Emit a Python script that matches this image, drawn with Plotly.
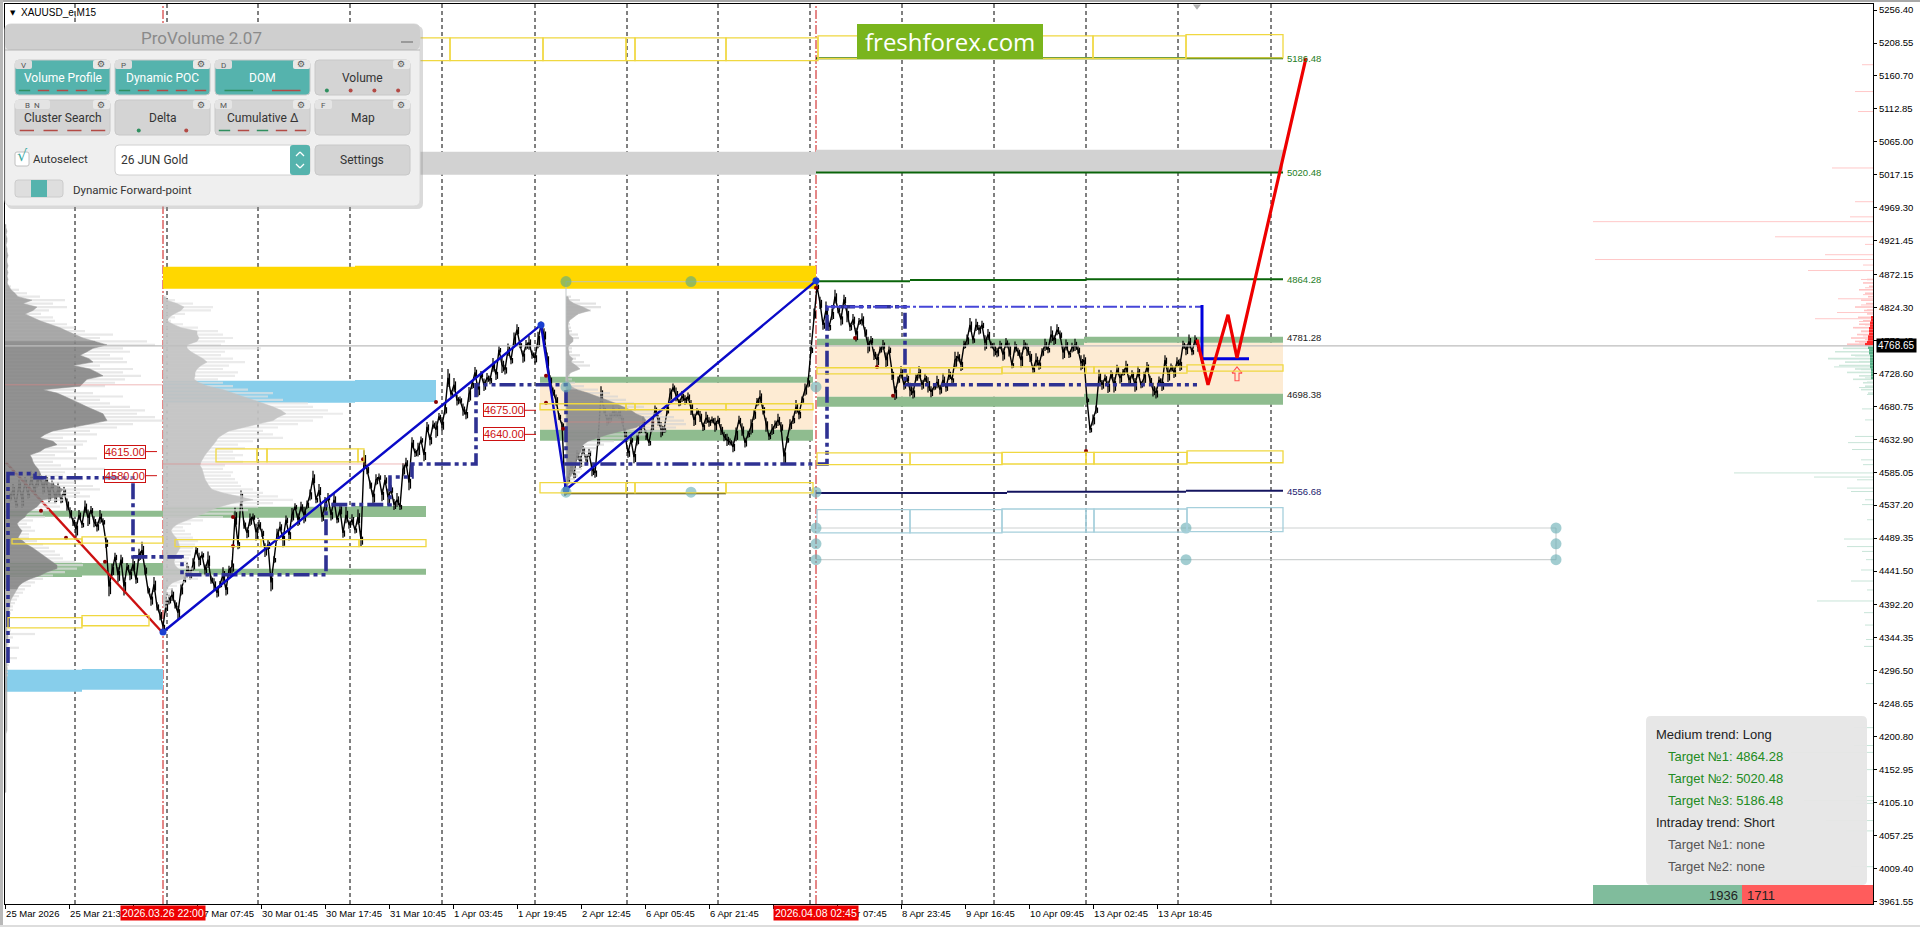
import plotly.graph_objects as go

# ---------- axis values ----------
x_tick_bars = [0,64,128,192,256,320,384,448,512,576,640,704,768,832,896,960,1024,1088,1152]
x_tick_labels = ["25 Mar 2026","25 Mar 21:30","","27 Mar 07:45","30 Mar 01:45","30 Mar 17:45",
                 "31 Mar 10:45","1 Apr 03:45","1 Apr 19:45","2 Apr 12:45","6 Apr 05:45","6 Apr 21:45",
                 "","8 Apr 07:45","8 Apr 23:45","9 Apr 16:45","10 Apr 09:45","13 Apr 02:45","13 Apr 18:45"]
y_ticks = [5256.40,5208.55,5160.70,5112.85,5065.00,5017.15,4969.30,4921.45,4872.15,4824.30,4776.45,4728.60,4680.75,
           4632.90,4585.05,4537.20,4489.35,4441.50,4392.20,4344.35,4296.50,4248.65,4200.80,4152.95,4105.10,4057.25,
           4009.40,3961.55]
period_bars = [70,162,253,345,437,530,622,713,805,897,989,1081,1173,1266]
session_bars = [158,811]
last_price = 4768.65

# ---------- price path: one reading every 3 bars from bar 5 ----------
first_bar, bar_step = 5, 3
close_path = [
4549,4559,4538,4567,4545,4571,4552,4577,4560,4571,
4578,4562,4574,4552,4567,4548,4560,4545,4557,4538,
4526,4513,4502,4523,4509,4535,4519,4530,4513,4506,
4520,4513,4483,4419,4443,4462,4436,4458,4419,4448,
4436,4451,4429,4465,4472,4443,4414,4400,4422,4390,
4378,4361,4393,4400,4407,4393,4381,4414,4429,4443,
4436,4451,4472,4458,4465,4443,4458,4429,4422,4410,
4422,4436,4414,4443,4448,4520,4480,4549,4509,4497,
4516,4520,4498,4509,4497,4472,4480,4425,4458,4494,
4506,4487,4516,4494,4523,4535,4516,4535,4523,4538,
4552,4577,4545,4559,4520,4538,4549,4523,4545,4516,
4531,4497,4523,4509,4516,4501,4520,4487,4603,4589,
4567,4549,4574,4578,4552,4574,4549,4560,4538,4545,
4535,4589,4599,4570,4628,4613,4618,4632,4610,4651,
4632,4654,4647,4666,4654,4676,4722,4698,4712,4690,
4690,4676,4669,4698,4712,4730,4705,4727,4712,4722,
4719,4741,4727,4763,4741,4734,4763,4748,4777,4792,
4770,4753,4770,4773,4756,4751,4777,4799,4785,4748,
4719,4702,4690,4666,4654,4560,4574,4593,4581,4610,
4600,4618,4603,4613,4589,4584,4632,4698,4676,4661,
4664,4673,4669,4671,4661,4639,4613,4632,4607,4632,
4647,4657,4639,4628,4654,4676,4661,4647,4647,4676,
4698,4708,4698,4686,4695,4690,4695,4679,4661,4673,
4666,4651,4664,4658,4661,4654,4661,4647,4637,4632,
4629,4622,4640,4661,4647,4628,4640,4651,4669,4687,
4695,4676,4654,4637,4647,4654,4661,4651,4608,4632,
4654,4661,4680,4669,4690,4705,4715,4763,4815,4855,
4831,4799,4821,4796,4814,4840,4821,4807,4836,4814,
4796,4807,4785,4804,4807,4789,4770,4777,4756,4748,
4763,4770,4748,4763,4727,4700,4719,4730,4712,4722,
4705,4700,4722,4730,4712,4722,4712,4702,4709,4716,
4705,4719,4708,4727,4719,4748,4753,4741,4770,4777,
4799,4777,4799,4792,4799,4773,4785,4770,4763,4759,
4770,4756,4773,4763,4741,4767,4760,4748,4770,4763,
4753,4734,4748,4741,4759,4770,4763,4785,4777,4792,
4785,4759,4770,4756,4766,4770,4763,4744,4748,4690,
4647,4661,4676,4724,4712,4722,4709,4727,4712,4734,
4722,4730,4738,4719,4727,4712,4731,4712,4722,4738,
4719,4705,4700,4719,4712,4748,4727,4737,4730,4745,
4741,4770,4763,4775,4760,4777,4766]
bar_swing = [
6,9,5,8,12,7,5,10,6,8,
5,9,7,11,6,8,10,5,7,9,
8,6,11,7,5,9,12,6,8,7,
10,5,8,14,9,6,11,7,13,5,
8,10,6,9,12,7,5,9,11,6,
8,5,12,7,9,6,10,8,5,11,
7,9,6,10,5,8,12,6,9,7,
5,11,8,6,9,14,7,10,6,8,
9,5,12,7,6,10,8,13,5,9,
7,11,6,8,10,5,9,7,12,6,
8,10,5,9,7,11,6,8,10,5,
9,7,12,6,8,5,11,9,14,7,
6,10,8,5,9,7,12,6,8,10,
5,9,7,11,8,6,10,5,9,7,
8,6,12,5,9,7,13,6,10,8,
5,9,7,11,6,8,10,5,9,7,
6,10,8,5,12,7,9,6,11,8,
5,9,7,10,6,8,12,5,9,11,
7,6,8,5,4,9,6,8,5,7,
9,5,8,6,10,7,9,12,6,8,
7,9,5,8,6,10,7,5,9,8,
6,9,7,5,10,6,8,11,5,7,
9,6,10,5,8,7,6,11,9,5,
8,6,9,7,5,10,6,8,7,9,
5,8,10,6,9,7,5,11,8,6,
9,7,10,5,8,6,9,7,12,5,
8,6,10,7,5,9,7,6,8,5,
9,7,12,6,8,10,5,9,7,11,
6,8,10,5,9,7,12,6,8,9,
5,7,11,6,8,10,5,9,7,6,
10,8,5,9,7,6,11,8,5,9,
7,10,6,8,5,12,7,9,6,8,
10,5,9,7,6,11,8,5,10,7,
6,9,7,10,5,8,6,11,7,9,
8,5,10,7,6,9,5,12,7,8,
6,10,8,5,7,9,6,11,8,4,
5,8,6,10,7,5,9,6,11,7,
8,5,9,7,6,10,8,5,9,7,
6,10,8,5,9,7,11,6,8,7,
9,6,8,10,5,7,6]

# ---------- volume profiles: width in bars on a 5-point price grid ----------
profile_step = 5.0
prof1_base, prof1_top = 0, 4945.0
prof1_width = [1,1,2,1,2,2,1,2,2,3,2,2,3,2,3,2,3,
 2,4,6,10,13,27,18,32,28,20,28,35,45,55,62,70,78,90,102,88,82,75,84,88,68,85,92,98,82,78,75,38,52,60,68,75,82,90,98,100,102,85,68,48,40,35,48,52,40,35,25,27,28,30,33,35,35,38,44,52,58,55,58,38,35,32,27,22,20,15,12,14,17,15,13,18,22,28,33,38,42,48,52,52,42,35,25,18,14,12,10,8,6,5,5,4,3,3,2,2,2,2,3,3,2,2,2,2,2,2,2,2,2,2,2,2,2,2,2,2,2,2,2,2,2,2,2,2,2,2,2,1,1,1,1,1,1,1,1,1,1,1,1,1,1,1,1,1,1]
prof1_haze_top = 4860.0
prof1_haze = [3,6,14,22,35,60,48,62,44,36,48,50,62,70,80,108,95,142,150,118,125,105,118,122,95,128,118,136,120,110,100,70,88,118,95,105,125,140,132,150,165,128,112,85,92,58,82,78,62,70,50,92,48,56,100,60,58,78,70,88,95,75,85,60,52,55,44,38,40,28,22,26,30,24,24,32,38,44,50,55,58,70,78,72,60,48,38,30,26,20,18,14,12,10,8,8,6,5,5,4,4,6,30,8,5,4,14,5,4,12,5,4,3,3,3]
prof2_base, prof2_top = 158, 4840.0
prof2_width = [2,4,14,21,18,11,6,4,10,18,34,34,36,34,24,24,28,34,40,44,38,34,32,32,31,36,45,60,70,82,92,102,110,118,123,115,110,95,80,66,60,55,53,50,47,45,42,40,38,37,39,40,41,42,44,46,49,60,75,90,70,57,48,41,32,24,15,10,8,10,13,15,16,17,15,13,12,11,12,15,20,25,20,10,6,4,3,3,2,2,2]
prof2_haze = [4,12,30,50,48,22,12,8,20,35,55,60,70,62,58,98,62,58,70,82,66,60,75,72,55,60,70,85,110,105,120,145,150,165,180,160,150,135,115,100,110,120,90,75,82,70,80,72,80,62,60,70,68,72,75,78,90,100,115,130,110,95,85,70,60,40,28,20,22,28,30,35,32,30,28,28,26,24,26,30,36,45,35,22,14,10,8,7,6,5,4]
prof3_base, prof3_top = 561, 4840.0
prof3_width = [2,3,8,17,24,12,7,3,2,2,3,3,7,7,3,2,3,3,7,5,10,14,5,2,2,3,5,11,22,32,40,50,57,65,70,78,80,76,70,55,42,32,22,17,16,15,13,11,10,9,8,7,5,3,2,2,1]
prof3_haze = [5,14,30,35,25,12,6,4,4,5,6,12,13,6,4,6,6,14,10,18,24,12,4,4,6,9,18,32,44,52,60,68,78,88,96,108,118,120,110,100,80,62,48,38,30,26,24,22,20,18,16,14,12,9,6,4,2]

# ---------- depth of market rows at the right edge ----------
dom_ask_price = [5177,5138,5109,5027,4978,4956,4949,4927,4916,4901,4894,4886,4878,4865,4853,4843,4837,4828,4821,4817,4808,4804,4799,4795,4789,4783,4778,4773]
dom_ask_size = [11,18,15,41,18,23,280,98,8,48,278,10,65,12,8,10,35,12,6,36,58,14,8,18,12,10,8,14]
dom_bid_price = [4760,4754,4750,4746,4738,4734,4730,4722,4716,4708,4698,4677,4661,4637,4628,4618,4603,4596,4584,4578,4574,4562,4557,4545,4538,4516,4488,4477,4470,4458,4443,4427,4414,4398,4381,4363,4342,4332,4278,4214,4188,4178,4153,4114,4108,4104,4079,4064,4012,3979]
dom_bid_size = [12,18,39,14,39,12,16,8,6,14,6,11,8,18,25,21,12,10,139,59,16,26,22,8,11,6,29,26,11,7,12,22,6,56,9,8,7,9,7,19,19,82,7,17,69,17,47,27,22,254]
ask_pale_price = [4865,4860,4855,4850,4845,4840,4835,4830,4825,4820,4815,4810,4805,4800,4795,4790,4785,4780,4775,4771]
ask_pale_size = [6,10,4,14,8,5,12,7,18,9,6,15,10,14,20,12,16,22,18,26]
ask_core_price = [4810,4806,4802,4798,4794,4790,4786,4782,4778,4774,4771]
ask_core_size = [2,2,3,3,4,4,4,5,5,6,8]
bid_pale_price = [4765,4760,4755,4750,4745,4740,4735,4730,4725,4720,4715,4710,4705,4700]
bid_pale_size = [30,38,22,45,28,34,18,26,14,20,10,8,12,5]
bid_core_price = [4766,4762,4758,4754,4750,4746,4742,4738,4734,4730,4726,4722]
bid_core_size = [5,4,4,3,3,3,3,3,2,2,2,2]

# ---------- zones: first bar, last bar, upper price, lower price ----------
gold_zones = [(158,350,4883.6,4851.6),(350,811,4885,4851.6)]
grey_zones = [(158,811,5050.6,5017),(811,1278,5053.5,5021.5)]
sky_zones = [(158,350,4718,4686),(350,431,4719,4687),(0,77,4298,4266),(77,158,4299,4269)]
green_zones = [(0,158,4529.1,4520.4),(0,77,4453.6,4433),(77,158,4453,4435),(158,350,4535,4519),(350,421,4536,4520),
               (158,421,4444.8,4436),(535,808,4723.8,4715),(535,808,4646.8,4630.8),(812,1079,4779,4770),
               (812,1079,4694.7,4680),(1079,1278,4781.9,4773),(1079,1278,4699,4683)]
peach_zones = [(535,808,4715,4646.8),(812,1079,4770,4694.7),(1079,1278,4773,4699)]
yellow_boxes = [(158,445,5216,5183),(445,538,5216,5183),(538,621,5216,5183),(621,630,5216,5183),(630,721,5216,5183),(721,813,5216,5183),
 (813,905,5219,5186),(905,997,5219,5186),(997,1088,5219,5186),(1088,1181,5219,5186),(1181,1278,5220.6,5187),
 (211,252,4619,4600),(252,262,4619,4600),(262,353,4619,4600),(353,359,4619,4600),
 (7,77,4488,4481),(77,158,4491,4482),(170,256,4487,4477),(256,354,4487,4477),(354,421,4487,4477),
 (3,77,4373.7,4359),(77,144,4376.6,4362),
 (535,621,4684.5,4675.8),(621,630,4684.5,4675.8),(630,721,4684.5,4675.8),(721,808,4684.5,4675.8),
 (535,621,4569.8,4555),(621,630,4569.8,4555),(630,721,4569.8,4555),(721,808,4569.8,4555),
 (812,905,4736.8,4728),(905,997,4736.8,4728),(997,1081,4738,4729),(1081,1089,4738,4729),(1089,1182,4738,4729),(1182,1278,4741,4732),
 (812,905,4613,4596),(905,997,4613,4596),(997,1081,4614,4597),(1081,1089,4614,4597),(1089,1182,4614,4597),(1182,1278,4616,4598.8)]
water_boxes = [(812,905,4530.6,4497),(905,997,4530.6,4497),(997,1081,4531.6,4498),(1081,1089,4531.6,4498),(1089,1182,4531.6,4498),(1182,1278,4533.5,4498.6)]

# ---------- levels ----------
target_levels = [(811,1278,5186.48),(811,1278,5020.48),(811,905,4862.5),(905,1081,4864.28),(1081,1278,4865.5)]
support_levels = [(811,1002,4555),(1002,1181,4556.68),(1181,1278,4558)]
level_labels = ["5186.48","5020.48","4864.28","4781.28","4698.38","4556.68"]
level_values = [5186.48,5020.48,4864.28,4781.28,4698.38,4556.68]
level_colors = ["#1e7d1e","#1e7d1e","#1e7d1e","#222222","#222222","#22226e"]
profile_poc = [(0,158,4712),(158,400,4597),(561,650,4658)]

poc_bars = [3,3,30,30,128,128,177,177,321,321,385,385,407,407,471,471,561,561,822,822,900,900,1192]
poc_prices = [4308,4583,4583,4577,4577,4462,4462,4436,4436,4538,4538,4578,4578,4597,4597,4712,4712,4597,4597,4825.5,4825.5,4712,4712]
poc2_bars = [822,1196]
poc2_prices = [4825.5,4825.5]

wave_blue_bars = [158,536,561,811]
wave_blue_prices = [4353,4799,4559.6,4863]
wave_red_bars = [1,157]
wave_red_prices = [4599,4353]
fcst_red_bars = [1192,1203,1223,1232,1301]
fcst_red_prices = [4777.5,4712,4813.8,4751,5187]
fcst_blue_bars = [1197,1197,1244]
fcst_blue_prices = [4828,4750,4750]
arrow_bars = [1227,1232,1237,1234,1234,1230,1230,1227]
arrow_prices = [4729,4738,4729,4729,4718,4718,4729,4729]

teal_bars = [561,561,686,811,811,811,811,811,1181,1181,1551,1551,1551]
teal_prices = [4556,4709,4556,4709,4556,4504,4481,4458,4504,4458,4504,4481,4458]
olive_bars = [561,686]
olive_prices = [4862,4862]
dot_bars = [36,61,100,228,228,358,431,541,541,558,811,850,872,888,1081]
dot_prices = [4529,4490,4455,4520,4478,4604,4687,4725,4686,4648,4853,4780,4738,4696,4616]
price_tag_values = [4615.00,4580.00,4675.00,4640.00]
price_tag_bars = [120,120,499,499]

# ---------- page geometry ----------
W, H = 1920, 927
L, R, T, B = 5, 1873, 4, 904
def px(x): return (x - L) / (R - L)
def py(y): return 1 - (y - T) / (B - T)

fig = go.Figure()
shapes, anns = [], []

def rect_list(rows, fill=None, line=None, lw=1.3, layer="below"):
    for b0, b1, p0, p1 in rows:
        shapes.append(dict(type="rect", xref="x", yref="y", x0=b0, x1=b1, y0=p0, y1=p1, layer=layer,
                           fillcolor=fill if fill else "rgba(0,0,0,0)",
                           line=dict(color=line, width=lw) if line else dict(width=0)))

rect_list(grey_zones, "#d2d2d2")
rect_list(gold_zones, "#ffd700")
rect_list(sky_zones, "#87ceeb")
rect_list(peach_zones, "#fdebd3")
rect_list(green_zones, "#8fbc8f")

for b in period_bars:
    shapes.append(dict(type="line", xref="x", yref="paper", x0=b, x1=b, y0=0, y1=1, layer="below",
                       line=dict(color="#000000", width=1, dash="4px,3px")))
for b in session_bars:
    shapes.append(dict(type="line", xref="x", yref="paper", x0=b, x1=b, y0=0, y1=1, layer="below",
                       line=dict(color="#cc1111", width=1, dash="9px,2px,2px,2px")))

# price: wick ticks plus the path through them
wx, wy = [], []
for i, (c, s) in enumerate(zip(close_path, bar_swing)):
    b = first_bar + bar_step * i
    wx += [b, b, None, b + 1.5, b + 1.5, None]
    wy += [c - s, c + s, None, c + s * 0.5, c - s * 0.8, None]
fig.add_trace(go.Scatter(x=wx, y=wy, mode="lines", line=dict(color="#000000", width=1.2), hoverinfo="skip"))
fig.add_trace(go.Scatter(x=[first_bar + bar_step * i for i in range(len(close_path))], y=close_path, mode="lines",
                         line=dict(color="#000000", width=1.4), hoverinfo="skip"))

# red wave lies under the first profile
fig.add_trace(go.Scatter(x=wave_red_bars, y=wave_red_prices, mode="lines",
                         line=dict(color="#cc1111", width=2.4), hoverinfo="skip"))

# profile haze and bodies
def haze(base, top, widths, color):
    xs, ys = [], []
    for i, w in enumerate(widths):
        p = top - profile_step * i
        xs += [base, base + w, None]; ys += [p, p, None]
    fig.add_trace(go.Scatter(x=xs, y=ys, mode="lines", line=dict(color=color, width=2.2), hoverinfo="skip"))

def body(base, top, widths, color, i0=0, i1=None, opacity=0.9):
    i1 = len(widths) if i1 is None else i1
    ps = [top - profile_step * i for i in range(i0, i1)]
    ws = widths[i0:i1]
    xs = [base] + [base + w for w in ws] + [base]
    ys = [ps[0]] + ps + [ps[-1]]
    fig.add_trace(go.Scatter(x=xs, y=ys, mode="lines", fill="toself", fillcolor=color, opacity=opacity,
                             line=dict(color=color, width=0.5), hoverinfo="skip"))

haze(prof1_base, prof1_haze_top, prof1_haze, "rgba(222,222,222,0.7)")
haze(prof2_base, prof2_top, prof2_haze, "rgba(226,226,226,0.7)")
haze(prof3_base, prof3_top, prof3_haze, "rgba(210,210,210,0.65)")
body(prof1_base, prof1_top, prof1_width, "#9c9c9c", 0, 35, 0.85)
body(prof1_base, prof1_top, prof1_width, "#808080", 34, 107, 0.85)
body(prof1_base, prof1_top, prof1_width, "#a8a8a8", 106, None, 0.85)
body(prof2_base, prof2_top, prof2_width, "#c2c2c2", 0, None, 0.9)
body(prof3_base, prof3_top, prof3_width, "#b0b0b0", 0, 28, 0.95)
body(prof3_base, prof3_top, prof3_width, "#8c8c8c", 27, None, 0.9)

# zone outlines above the profiles
rect_list(yellow_boxes, None, "#f0d840", layer="above")
rect_list(water_boxes, None, "#a6d0dc", layer="above")

# depth of market
def dom(prices, sizes, color, w=1):
    xs, ys = [], []
    for p, s in zip(prices, sizes):
        xs += [1868 - s, 1868, None]; ys += [p, p, None]
    fig.add_trace(go.Scatter(x=xs, y=ys, mode="lines", line=dict(color=color, width=w), hoverinfo="skip"))
dom(dom_ask_price, dom_ask_size, "#ffc8c8")
dom(dom_bid_price, dom_bid_size, "#c8e4d8")
dom(ask_pale_price, ask_pale_size, "#ffc4c4", 1.6)
dom(bid_pale_price, bid_pale_size, "#cfe8dc", 1.6)
dom(ask_core_price, ask_core_size, "#ff2a2a", 2.6)
dom(bid_core_price, bid_core_size, "#58b088", 2.6)

# levels
def level_rows(rows, color, w=2):
    xs, ys = [], []
    for b0, b1, p in rows:
        xs += [b0, b1, None]; ys += [p, p, None]
    fig.add_trace(go.Scatter(x=xs, y=ys, mode="lines", line=dict(color=color, width=w), hoverinfo="skip"))
level_rows(profile_poc, "rgba(225,130,130,0.55)", 1)
level_rows([(0, 1868, last_price)], "#bdbdbd", 1.2)
level_rows(target_levels, "#0a640a")
level_rows(support_levels, "#14145f")
level_rows([(561, 721, 4554)], "#33330f", 1.5)

# grey connector lines
xs = [811, 1551, None, 811, 1551, None, 1551, 1551, None, 561, 811, None, 561, 561]
ys = [4504, 4504, None, 4458, 4458, None, 4504, 4458, None, 4862, 4862, None, 4862, 4556]
fig.add_trace(go.Scatter(x=xs, y=ys, mode="lines", line=dict(color="rgba(190,195,195,0.75)", width=1.2), hoverinfo="skip"))

# POC lines
fig.add_trace(go.Scatter(x=poc_bars, y=poc_prices, mode="lines",
                         line=dict(color="#2e3192", width=3.6, dash="16px,4px,4px,4px,4px,4px"), hoverinfo="skip"))
fig.add_trace(go.Scatter(x=poc2_bars, y=poc2_prices, mode="lines",
                         line=dict(color="#4646d8", width=2, dash="14px,3px,3px,3px"), hoverinfo="skip"))

# waves
fig.add_trace(go.Scatter(x=wave_blue_bars, y=wave_blue_prices, mode="lines+markers",
                         line=dict(color="#0a0ac8", width=2.4), marker=dict(color="#1a3fd0", size=7), hoverinfo="skip"))
fig.add_trace(go.Scatter(x=fcst_blue_bars, y=fcst_blue_prices, mode="lines",
                         line=dict(color="#0000dd", width=3), hoverinfo="skip"))
fig.add_trace(go.Scatter(x=fcst_red_bars, y=fcst_red_prices, mode="lines",
                         line=dict(color="#ee0000", width=3.2), hoverinfo="skip"))
fig.add_trace(go.Scatter(x=arrow_bars, y=arrow_prices, mode="lines",
                         line=dict(color="#ff5050", width=1.1), hoverinfo="skip"))

# markers
fig.add_trace(go.Scatter(x=teal_bars, y=teal_prices, mode="markers",
                         marker=dict(color="rgba(105,175,180,0.62)", size=11), hoverinfo="skip"))
fig.add_trace(go.Scatter(x=olive_bars, y=olive_prices, mode="markers",
                         marker=dict(color="rgba(110,175,120,0.7)", size=11), hoverinfo="skip"))
fig.add_trace(go.Scatter(x=dot_bars, y=dot_prices, mode="markers",
                         marker=dict(color="#8b0000", size=4), hoverinfo="skip"))
fig.add_trace(go.Scatter(x=[1192], y=[5262], mode="markers",
                         marker=dict(symbol="triangle-down", color="#b0b0b0", size=7), hoverinfo="skip"))

# red price tags
tagx, tagy = [], []
for b, v in zip(price_tag_bars, price_tag_values):
    anns.append(dict(xref="x", yref="y", x=b, y=v, text=f"{v:.2f}", showarrow=False, bgcolor="rgba(255,255,255,0.4)",
                     bordercolor="#cc1111", borderwidth=1, borderpad=0,
                     font=dict(family="Liberation Sans", size=11, color="#cc1111")))
    tagx += [b + 21, b + 32, None]; tagy += [v, v, None]
fig.add_trace(go.Scatter(x=tagx, y=tagy, mode="lines", line=dict(color="#cc1111", width=1), hoverinfo="skip"))

# level labels
for t, v, c in zip(level_labels, level_values, level_colors):
    anns.append(dict(xref="x", yref="y", x=1280, y=v, text=t, showarrow=False, xanchor="left",
                     font=dict(family="Liberation Sans", size=9.5, color=c)))

# ---------- helpers for the overlay panels ----------
def text(x, y, s, size=12, color="#333333", anchor="left", fam="Roboto"):
    anns.append(dict(xref="paper", yref="paper", x=px(x), y=py(y), text=s, showarrow=False, xanchor=anchor,
                     yanchor="middle", font=dict(family=fam, size=size, color=color)))

def rbox(x0, y0, x1, y1, fill, r=4, line=None, op=1):
    X0, X1, Y0, Y1 = px(x0), px(x1), py(y0), py(y1)
    rx, ry = r / (R - L), r / (B - T)
    path = (f"M {X0+rx} {Y0} L {X1-rx} {Y0} Q {X1} {Y0} {X1} {Y0-ry} L {X1} {Y1+ry} Q {X1} {Y1} {X1-rx} {Y1} "
            f"L {X0+rx} {Y1} Q {X0} {Y1} {X0} {Y1+ry} L {X0} {Y0-ry} Q {X0} {Y0} {X0+rx} {Y0} Z")
    shapes.append(dict(type="path", xref="paper", yref="paper", path=path, fillcolor=fill, layer="above", opacity=op,
                       line=dict(color=line, width=1) if line else dict(width=0)))

def seg(x0, y0, x1, y1, color, w=1):
    shapes.append(dict(type="line", xref="paper", yref="paper", x0=px(x0), x1=px(x1), y0=py(y0), y1=py(y1),
                       layer="above", line=dict(color=color, width=w)))

# ---------- ProVolume panel ----------
rbox(7, 26, 423, 209, "rgba(150,150,150,0.35)", 6)
rbox(5, 24, 420, 206, "#efefef", 6, "#d8d8d8")
rbox(5, 24, 420, 50, "#cfcfcf", 6)
seg(5, 50, 420, 50, "#b5b5b5")
text(201, 38, "ProVolume 2.07", 17, "#8a8a8a", "center")
seg(401, 42, 413, 42, "#9a9a9a", 2)

TEAL = "#55b3ad"
btn_x = [15, 115, 215, 315]
btn_w = 95
names1 = ["Volume Profile", "Dynamic POC", "DOM", "Volume"]
names2 = ["Cluster Search", "Delta", "Cumulative Δ", "Map"]
keys1 = ["V", "P", "D", ""]
keys2 = ["B  N", "", "M", "F"]
G, Rd = "#2f8f5f", "#b34a45"
marks1 = [[G, Rd, Rd, Rd, G], [G, Rd, Rd, Rd, Rd], [G, Rd], [G, Rd, Rd, Rd]]
marks2 = [[Rd, Rd, Rd, Rd], [G, Rd], [G, Rd, G, Rd, Rd], []]
for i, x in enumerate(btn_x):
    on = i < 3
    rbox(x, 60, x + btn_w, 95, TEAL if on else "#d4d4d4", 4, "#c8c8c8")
    text(x + btn_w / 2, 78, names1[i], 12, "#ffffff" if on else "#333333", "center")
    rbox(x + 78, 60, x + btn_w, 69, "#e8e8e8", 2)
    text(x + 86, 64.5, "⚙", 9, "#555555", "center", "DejaVu Sans")
    if keys1[i]:
        rbox(x, 60, x + 17, 69, "#dddddd", 2)
        text(x + 8, 65, keys1[i], 8, "#555555", "center")
    m = marks1[i]
    cw = btn_w / len(m)
    for j, c in enumerate(m):
        cx = x + cw * (j + 0.5)
        if i == 3:
            shapes.append(dict(type="circle", xref="paper", yref="paper", layer="above", fillcolor=c, line=dict(width=0),
                               x0=px(cx - 2), x1=px(cx + 2), y0=py(92.5), y1=py(88.5)))
        else:
            seg(cx - 0.3 * cw, 90.5, cx + 0.3 * cw, 90.5, c, 1.5)
    rbox(x, 100, x + btn_w, 135, "#d4d4d4", 4, "#c8c8c8")
    text(x + btn_w / 2, 118, names2[i], 12, "#333333", "center")
    rbox(x + 78, 100, x + btn_w, 109, "#e8e8e8", 2)
    text(x + 86, 104.5, "⚙", 9, "#555555", "center", "DejaVu Sans")
    if keys2[i]:
        rbox(x, 100, x + (35 if i == 0 else 17), 109, "#e4e4e4", 2)
        text(x + (17 if i == 0 else 8), 105, keys2[i], 8, "#555555", "center")
    m = marks2[i]
    if m:
        cw = btn_w / len(m)
        for j, c in enumerate(m):
            cx = x + cw * (j + 0.5)
            if i == 1:
                shapes.append(dict(type="circle", xref="paper", yref="paper", layer="above", fillcolor=c, line=dict(width=0),
                                   x0=px(cx - 2), x1=px(cx + 2), y0=py(132.5), y1=py(128.5)))
            else:
                seg(cx - 0.3 * cw, 130.5, cx + 0.3 * cw, 130.5, c, 1.5)

rbox(15, 152, 29, 166, "#ffffff", 2, "#c0c0c0")
text(22, 156, "√", 16, "#3aa8a0", "center", "DejaVu Sans")
text(31, 159, "Autoselect", 11.5, "#333333")
rbox(115, 145, 310, 175, "#ffffff", 4, "#d0d0d0")
rbox(290, 145, 310, 175, TEAL, 3)
seg(296, 156, 300, 152, "#ffffff", 1.2); seg(300, 152, 304, 156, "#ffffff", 1.2)
seg(296, 164, 300, 168, "#ffffff", 1.2); seg(300, 168, 304, 164, "#ffffff", 1.2)
text(119, 160, "26 JUN Gold", 12, "#333333")
rbox(315, 145, 410, 175, "#d4d4d4", 4, "#c8c8c8")
text(362, 160, "Settings", 12, "#333333", "center")
rbox(15, 180, 63, 197, "#dedede", 3, "#cccccc")
rbox(31, 180, 47, 197, TEAL, 0)
text(71, 190, "Dynamic Forward-point", 11.5, "#333333")

# symbol caption
text(8, 12.5, "▼", 7, "#000000", "left", "DejaVu Sans")
text(19, 12.5, "XAUUSD_e,M15", 10, "#000000", "left", "Liberation Sans")

# logo
rbox(857, 24, 1043, 59, "#7ab51d", 0)
text(950, 41.5, "freshforex.com", 24, "#ffffff", "center", "Open Sans")

# trend panel
rbox(1646, 716, 1867, 885, "rgba(230,230,230,0.95)", 5)
lines = [("Medium trend: Long", 1654, "#222222"), ("Target №1: 4864.28", 1666, "#228b22"),
         ("Target №2: 5020.48", 1666, "#228b22"), ("Target №3: 5186.48", 1666, "#228b22"),
         ("Intraday trend: Short", 1654, "#222222"), ("Target №1: none", 1666, "#555555"),
         ("Target №2: none", 1666, "#555555")]
for k, (s, x, c) in enumerate(lines):
    text(x, 734 + 22 * k, s, 13, c, "left", "Liberation Sans")

# balance bar
shapes.append(dict(type="rect", xref="paper", yref="paper", x0=px(1593), x1=px(1742), y0=py(904), y1=py(885),
                   fillcolor="#80bc9c", line=dict(width=0), layer="above"))
shapes.append(dict(type="rect", xref="paper", yref="paper", x0=px(1742), x1=px(1873), y0=py(904), y1=py(885),
                   fillcolor="#ff5c5c", line=dict(width=0), layer="above"))
text(1740, 895, "1936", 13, "#222222", "right", "Liberation Sans")
text(1745, 895, "1711", 13, "#222222", "left", "Liberation Sans")

# red time flags and last-price tag
for b, t in zip(session_bars, ["2026.03.26 22:00", "2026.04.08 02:45"]):
    anns.append(dict(xref="x", yref="paper", x=b, y=py(913), text=t, showarrow=False, bgcolor="#ee0000",
                     font=dict(family="Liberation Sans", size=10.5, color="#ffffff"), borderpad=1, yanchor="middle"))
anns.append(dict(xref="paper", yref="y", x=px(1876), y=last_price, text=f"{last_price:.2f}", showarrow=False, xanchor="left",
                 bgcolor="#000000", font=dict(family="Liberation Sans", size=10, color="#ffffff"), borderpad=1))

# window edges
shapes.append(dict(type="rect", xref="paper", yref="paper", x0=px(0), x1=px(1920), y0=py(2), y1=py(0),
                   fillcolor="#a8a8a8", line=dict(width=0), layer="above"))
shapes.append(dict(type="rect", xref="paper", yref="paper", x0=px(0), x1=px(3), y0=py(927), y1=py(0),
                   fillcolor="#b8b8b8", line=dict(width=0), layer="above"))
shapes.append(dict(type="rect", xref="paper", yref="paper", x0=px(0), x1=px(1920), y0=py(927), y1=py(925),
                   fillcolor="#dddddd", line=dict(width=0), layer="above"))

fig.update_layout(
    width=W, height=H, margin=dict(l=L, r=W - R, t=T, b=H - B), autosize=False,
    paper_bgcolor="#ffffff", plot_bgcolor="#ffffff", showlegend=False, hovermode=False,
    shapes=shapes, annotations=anns,
    xaxis=dict(range=[0, 1868], tickmode="array", tickvals=x_tick_bars, ticktext=x_tick_labels, showgrid=False, zeroline=False,
               ticks="outside", ticklen=4, tickcolor="#000000", tickwidth=1, showline=True, linecolor="#000000", linewidth=1.2,
               mirror=True, ticklabelposition="outside right", tickangle=0,
               tickfont=dict(family="Liberation Sans", size=9.5, color="#000000")),
    yaxis=dict(range=[3957.8, 5265.2], side="right", tickmode="array", tickvals=y_ticks, ticktext=[f"{v:.2f}" for v in y_ticks],
               showgrid=False, zeroline=False, ticks="outside", ticklen=3, tickcolor="#000000", showline=True, linecolor="#000000",
               linewidth=1.2, mirror=True, tickfont=dict(family="Liberation Sans", size=9.5, color="#000000")),
)
fig.write_html("out.html", config=dict(displayModeBar=False), post_script="document.body.style.margin='0';")
